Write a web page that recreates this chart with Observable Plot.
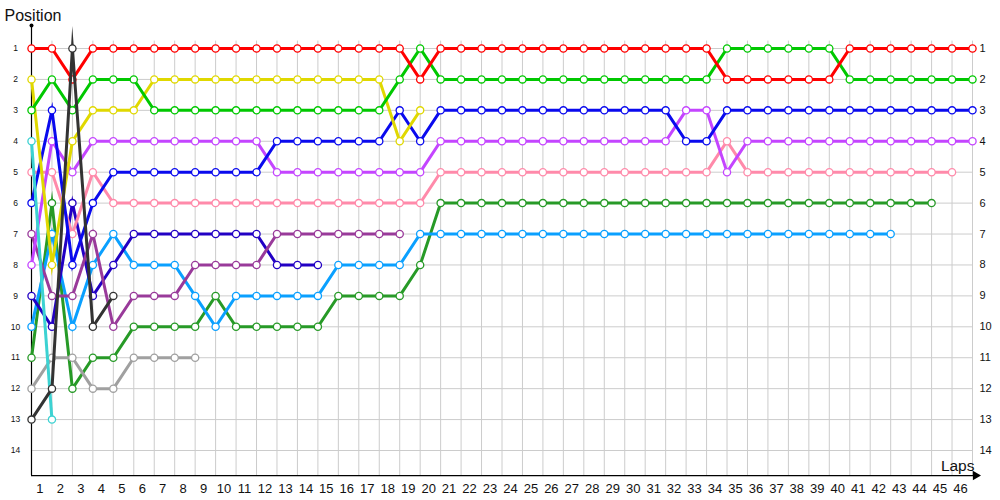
<!DOCTYPE html>
<html><head><meta charset="utf-8">
<script src="https://cdn.jsdelivr.net/npm/d3@7"></script>
<script src="https://cdn.jsdelivr.net/npm/@observablehq/plot@0.6"></script>
<style>
body{margin:0;background:#fff;}
svg{font-family:"Liberation Sans",Arial,sans-serif;}
</style>
</head><body><div id="chart"></div>
<script>
// Lap numbers shown on the axis and position labels
const lapTicks = d3.range(1, 47);
const gridLaps = d3.range(0, 47);
const positions = [1,2,3,4,5,6,7,8,9,10,11,12,13,14];

// Positions per lap (index = lap, starting at lap 0 = grid)
const red     = [1,1,2,1,1,1,1,1,1,1, 1,1,1,1,1,1,1,1,1,2, 1,1,1,1,1,1,1,1,1,1, 1,1,1,1,2,2,2,2,2,2, 1,1,1,1,1,1,1];
const green   = [3,2,3,2,2,2,3,3,3,3, 3,3,3,3,3,3,3,3,2,1, 2,2,2,2,2,2,2,2,2,2, 2,2,2,2,1,1,1,1,1,1, 2,2,2,2,2,2,2];
const yellow  = [2,8,4,3,3,3,2,2,2,2, 2,2,2,2,2,2,2,2,4,3];
const blue    = [6,3,8,6,5,5,5,5,5,5, 5,5,4,4,4,4,4,4,3,4, 3,3,3,3,3,3,3,3,3,3, 3,3,4,4,3,3,3,3,3,3, 3,3,3,3,3,3,3];
const violet  = [8,4,5,4,4,4,4,4,4,4, 4,4,5,5,5,5,5,5,5,5, 4,4,4,4,4,4,4,4,4,4, 4,4,3,3,5,4,4,4,4,4, 4,4,4,4,4,4,4];
const pink    = [5,5,7,5,6,6,6,6,6,6, 6,6,6,6,6,6,6,6,6,6, 5,5,5,5,5,5,5,5,5,5, 5,5,5,5,4,5,5,5,5,5, 5,5,5,5,5,5];
const navy    = [9,10,6,9,8,7,7,7,7,7, 7,7,8,8,8];
const purple  = [7,9,9,7,10,9,9,9,8,8, 8,8,7,7,7,7,7,7,7];
const sky     = [10,7,10,8,7,8,8,8,9,10, 9,9,9,9,9,8,8,8,8,7, 7,7,7,7,7,7,7,7,7,7, 7,7,7,7,7,7,7,7,7,7, 7,7,7];
const dkgreen = [11,6,12,11,11,10,10,10,10,9, 10,10,10,10,10,9,9,9,9,8, 6,6,6,6,6,6,6,6,6,6, 6,6,6,6,6,6,6,6,6,6, 6,6,6,6,6];
const gray    = [12,11,11,12,12,11,11,11,11];
const black   = [13,12,1,10,9];
const cyan    = [4,13];

// Drawing order (later = on top) and colours
const series = [
  {name:"dkgreen", color:"#279a27", pos:dkgreen},
  {name:"sky",     color:"#0aa0ff", pos:sky},
  {name:"navy",    color:"#2200c4", pos:navy},
  {name:"purple",  color:"#993a9a", pos:purple},
  {name:"pink",    color:"#ff8aaa", pos:pink},
  {name:"violet",  color:"#c445ff", pos:violet},
  {name:"blue",    color:"#0a0aee", pos:blue},
  {name:"gray",    color:"#a0a0a0", pos:gray},
  {name:"yellow",  color:"#e0d800", pos:yellow},
  {name:"green",   color:"#00c800", pos:green},
  {name:"red",     color:"#ff0000", pos:red},
  {name:"cyan",    color:"#3cd2d2", pos:cyan},
  {name:"black",   color:"#333333", pos:black}
];

const gridTop = 0.76;     // top of vertical grid lines (position units)
const axisBottom = 14.81; // x-axis baseline (position units)

const marks = [
  Plot.ruleX(gridLaps, {x: d => d, y1: gridTop, y2: axisBottom, stroke: "#cccccc", strokeWidth: 1}),
  Plot.ruleY(positions, {y: d => d, x1: 0, x2: 46, stroke: "#cccccc", strokeWidth: 1}),
  Plot.ruleX([0], {x: d => d, stroke: "black", strokeWidth: 1.2}),
  Plot.dot([0], {x: d => d, frameAnchor: "top", r: 2, fill: "black"}),
  Plot.ruleY([axisBottom], {y: d => d, x1: 0, x2: 46.2, stroke: "black", strokeWidth: 1.2}),
  Plot.dot([axisBottom], {x: () => 46.15, y: d => d, symbol: "triangle", rotate: 90, r: 3.5, fill: "black"}),
  Plot.axisX(lapTicks, {anchor: "bottom", tickSize: 0, tickPadding: 8, dx: -12, fontSize: 13, fill: "#111", label: null}),
  Plot.axisY(positions, {anchor: "left", tickSize: 0, tickPadding: 16, textAnchor: "middle", fontSize: 8.5, fill: "#111", label: null}),
  Plot.axisY(positions, {anchor: "right", tickSize: 0, tickPadding: 7, fontSize: 11, fill: "#111", label: null}),
  Plot.text(["Position"], {frameAnchor: "top-left", textAnchor: "start", lineAnchor: "bottom", dx: -27, dy: -5, fontSize: 16, fill: "#111"}),
  Plot.text(["Laps"], {frameAnchor: "bottom-right", textAnchor: "end", lineAnchor: "bottom", dx: 2, dy: -5, fontSize: 15.5, fill: "#111"})
];

for (const s of series) {
  const rows = s.pos.map((p, i) => ({lap: i, pos: p}));
  marks.push(Plot.line(rows, {x: "lap", y: "pos", stroke: s.color, strokeWidth: 3, strokeLinejoin: "miter", strokeMiterlimit: 20, strokeLinecap: "butt"}));
  marks.push(Plot.dot(rows, {x: "lap", y: "pos", r: 3.6, fill: "white", stroke: s.color, strokeWidth: 1.3}));
}

const chart = Plot.plot({
  width: 1000,
  height: 500,
  marginTop: 25,
  marginBottom: 25,
  marginLeft: 31,
  marginRight: 28,
  x: {domain: [0, 46], range: [31, 972]},
  y: {domain: [1, 14], range: [48, 450]},
  marks
});
document.getElementById("chart").appendChild(chart);
</script>
</body></html>
